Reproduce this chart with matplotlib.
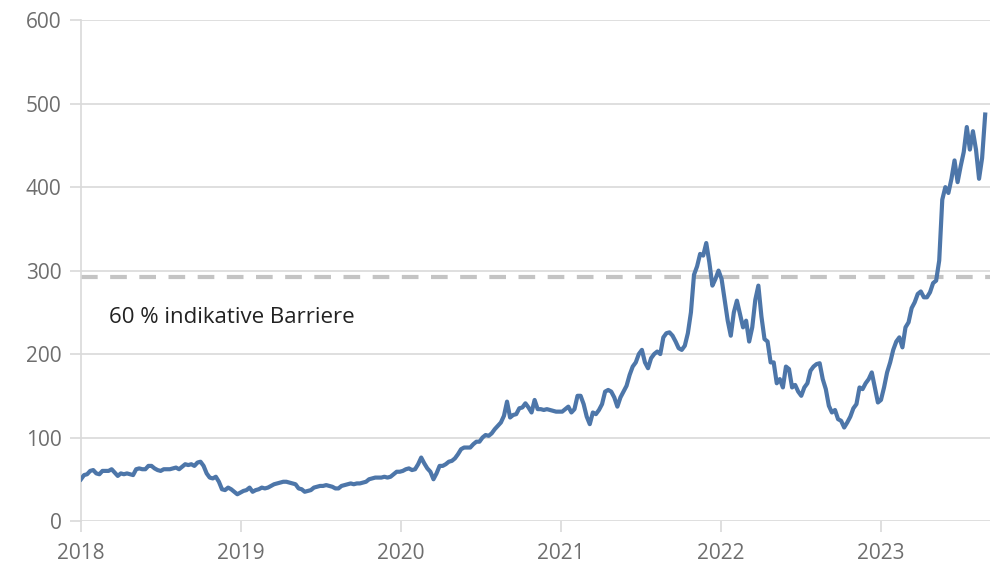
import matplotlib
matplotlib.use("Agg")
import matplotlib.pyplot as plt
import matplotlib.dates as mdates
import pandas as pd

# weekly closing prices (weeks starting 2018-01-01)
y2018 = [50, 55, 56, 60, 61,
         57, 56, 60, 60,
         60, 62, 58, 54,
         57, 56, 57, 56, 55,
         62, 63, 62, 62,
         66, 66, 63, 61,
         60, 62, 62, 62, 63,
         64, 62, 65, 68,
         67, 68, 66, 70,
         71, 66, 57, 52, 51,
         53, 47, 38, 37,
         40, 38, 35, 32, 34]
y2019 = [36, 37, 40, 35,
         37, 38, 40, 39,
         40, 42, 44, 45,
         46, 47, 47, 46, 45,
         44, 39, 38, 35,
         36, 37, 40, 41,
         42, 42, 43, 42, 41,
         39, 39, 42, 43,
         44, 45, 44, 45, 45,
         46, 47, 50, 51,
         52, 52, 52, 53,
         52, 53, 56, 59, 59]
y2020 = [60, 62, 63, 61,
         62, 68, 76, 69,
         63, 59, 50, 57, 66,
         66, 68, 71, 72,
         75, 80, 86, 88,
         88, 88, 92, 95, 95,
         100, 103, 102, 105,
         110, 114, 118, 126, 143,
         124, 127, 128, 135,
         136, 141, 136, 130,
         145, 134, 134, 133, 134,
         133, 132, 131, 131]
y2021 = [131, 134, 137, 130,
         134, 150, 150, 140,
         125, 116, 130, 128, 133,
         140, 155, 157, 155,
         148, 137, 148, 155, 162,
         175, 185, 190, 200,
         205, 190, 183, 195,
         200, 203, 200, 220, 225,
         226, 222, 215, 207,
         205, 210, 225, 250,
         295, 305, 320, 318, 333,
         310, 282, 290, 300]
y2022 = [290, 265, 240, 222, 250,
         264, 248, 232, 240,
         215, 232, 265, 282,
         245, 218, 215, 190,
         190, 165, 170, 160, 185,
         182, 160, 163, 155,
         150, 160, 165, 180,
         185, 188, 189, 170, 158,
         138, 130, 133, 122,
         120, 112, 118, 125, 135,
         140, 160, 158, 165,
         170, 178, 160, 142]
y2023 = [145, 160, 178, 190, 205,
         215, 220, 208, 232,
         238, 255, 262, 272,
         275, 268, 268, 274,
         285, 288, 312, 385, 400,
         393, 410, 432, 406,
         425, 442, 472, 445, 467,
         445, 410, 435, 487]

prices = y2018 + y2019 + y2020 + y2021 + y2022 + y2023
dates = pd.date_range("2018-01-01", periods=len(prices), freq="7D")

barrier = 292
barrier_label = "60 % indikative Barriere"
years = [2018, 2019, 2020, 2021, 2022, 2023]
y_ticks = [0, 100, 200, 300, 400, 500, 600]

plt.rcParams['font.family'] = ['Open Sans', 'DejaVu Sans']

fig = plt.figure(figsize=(9.9, 5.71), dpi=100)
ax = fig.add_axes([0.0818, 0.0876, 0.9182, 0.877])

ax.set_ylim(0, 600)
ax.set_xlim(pd.Timestamp("2018-01-01"), pd.Timestamp("2023-09-08"))
ax.set_yticks(y_ticks)
ax.set_xticks([pd.Timestamp(f"{y}-01-01") for y in years])
ax.xaxis.set_major_formatter(mdates.DateFormatter("%Y"))

ax.grid(axis='y', color='#d9d9d9', linewidth=1.2, zorder=0)
for s in ['top', 'right', 'bottom']:
    ax.spines[s].set_visible(False)
ax.spines['left'].set_color('#d9d9d9')
ax.spines['left'].set_linewidth(1.2)
ax.tick_params(axis='both', colors='#d9d9d9', width=1.2, length=8,
               labelcolor='#6e6e6e', labelsize=15)
ax.tick_params(axis='x', pad=8)
ax.tick_params(axis='y', pad=6)

ax.axhline(barrier, color='#c4c4c4', linewidth=3, dashes=(4, 3), zorder=2)
ax.plot(dates, prices, color='#4d76a9', linewidth=3, zorder=3)

ax.text(pd.Timestamp("2018-03-05"), 244, barrier_label, fontsize=16,
        color='#222222', va='center', ha='left')

fig.savefig("out.png", dpi=100)
